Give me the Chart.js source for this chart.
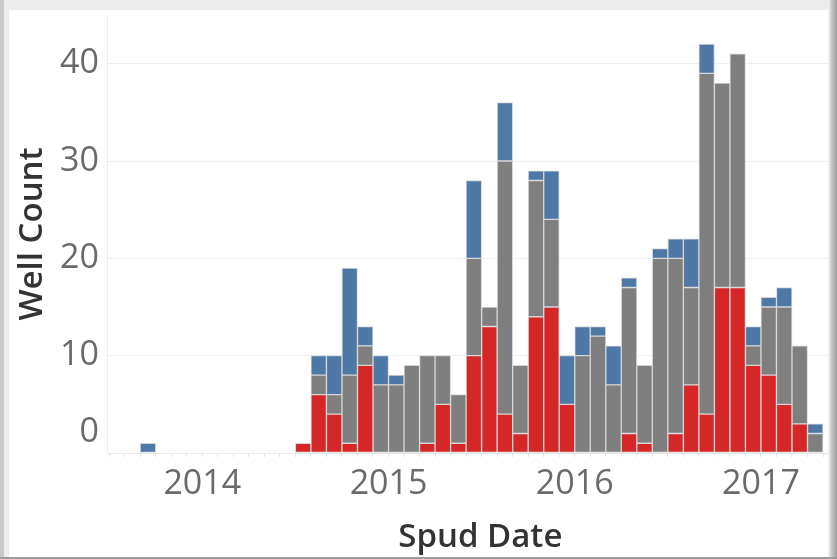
<!DOCTYPE html>
<html>
<head>
<meta charset="utf-8">
<script src="https://cdn.jsdelivr.net/npm/chart.js@4"></script>
<style>
  html, body { margin: 0; padding: 0; }
  body { width: 837px; height: 559px; background: #ececec; position: relative; overflow: hidden; }
  .edgeLeft { position: absolute; left: 0; top: 0; width: 4px; height: 559px; background: #c9c9c9; }
  .edgeRight { position: absolute; right: 0; top: 0; width: 7px; height: 559px; background: linear-gradient(to right, #d6d6d6, #9c9c9c); }
  .edgeBottom { position: absolute; left: 0; bottom: 0; width: 837px; height: 2px; background: #9c9c9c; }
  .panel { position: absolute; left: 9px; top: 10px; width: 819px; height: 547px; background: #fff; }
</style>
</head>
<body>
<div class="edgeLeft"></div>
<div class="edgeRight"></div>
<div class="edgeBottom"></div>
<div class="panel"><canvas id="wellChart"></canvas></div>
<script>
// meses (YYYY-MM) y pozos por categoria
var months = [
  "2013-09", "2013-10", "2013-11", "2013-12",
  "2014-01", "2014-02", "2014-03", "2014-04", "2014-05", "2014-06",
  "2014-07", "2014-08", "2014-09", "2014-10", "2014-11", "2014-12",
  "2015-01", "2015-02", "2015-03", "2015-04", "2015-05", "2015-06",
  "2015-07", "2015-08", "2015-09", "2015-10", "2015-11", "2015-12",
  "2016-01", "2016-02", "2016-03", "2016-04", "2016-05", "2016-06",
  "2016-07", "2016-08", "2016-09", "2016-10", "2016-11", "2016-12",
  "2017-01", "2017-02", "2017-03", "2017-04"
];
var redWells = [
  0, 0, 0, 0,
  0, 0, 0, 0, 0, 0,
  1, 6, 4, 1, 9, 0,
  0, 0, 1, 5, 1, 10,
  13, 4, 2, 14, 15, 5,
  0, 0, 0, 2, 1, 0,
  2, 7, 4, 17, 17, 9,
  8, 5, 3, 0
];
var grayWells = [
  0, 0, 0, 0,
  0, 0, 0, 0, 0, 0,
  0, 2, 2, 7, 2, 7,
  7, 9, 9, 5, 5, 10,
  2, 26, 7, 14, 9, 0,
  10, 12, 7, 15, 8, 20,
  18, 10, 35, 21, 24, 2,
  7, 10, 8, 2
];
var blueWells = [
  1, 0, 0, 0,
  0, 0, 0, 0, 0, 0,
  0, 2, 4, 11, 2, 3,
  1, 0, 0, 0, 0, 8,
  0, 6, 0, 1, 5, 5,
  3, 1, 4, 1, 0, 1,
  2, 5, 3, 0, 0, 2,
  1, 2, 0, 1
];
var yearLabels = ["2014", "2015", "2016", "2017"];
var yLabelValues = [0, 10, 20, 30, 40];

// eje x en meses contados desde enero 2013
function monthPos(m) {
  var parts = m.split("-");
  return (Number(parts[0]) - 2013) * 12 + Number(parts[1]) - 1 + 0.5;
}

function toPoints(values) {
  return values.map(function (v, i) {
    return { x: monthPos(months[i]), y: v };
  });
}

var xMin = 5.86, xMax = 52.32;
var xTicks = [];
for (var t = 6; t <= 52; t++) xTicks.push(t);
var yTicks = [0, 5, 10, 15, 20, 25, 30, 35, 40, 45];

var tickFont = { family: "Open Sans", size: 34 };
var titleFont = { family: "Open Sans", size: 33, weight: "600" };

var ctx = document.getElementById("wellChart").getContext("2d");
new Chart(ctx, {
  type: "bar",
  data: {
    datasets: [
      { data: toPoints(redWells), backgroundColor: "#d62728" },
      { data: toPoints(grayWells), backgroundColor: "#7f7f7f" },
      { data: toPoints(blueWells), backgroundColor: "#4e79a7" }
    ]
  },
  options: {
    responsive: true,
    maintainAspectRatio: false,
    animation: false,
    layout: { padding: { top: 5, right: 0, left: 0, bottom: 0 } },
    datasets: {
      bar: {
        barPercentage: 1,
        categoryPercentage: 1,
        borderWidth: 1,
        borderColor: "#d6d6d6",
        borderSkipped: false
      }
    },
    plugins: { legend: { display: false }, tooltip: { enabled: false } },
    scales: {
      x: {
        type: "linear",
        stacked: true,
        offset: false,
        min: xMin,
        max: xMax,
        afterBuildTicks: function (s) {
          s.ticks = xTicks.map(function (v) { return { value: v }; });
        },
        afterFit: function (s) {
          s.height = 104;
          s.paddingLeft = 0;
          s.paddingRight = 0;
        },
        grid: { offset: false, drawOnChartArea: false, tickLength: 4, color: "#e4e4e4" },
        border: { color: "#e8e8e8" },
        ticks: {
          autoSkip: false,
          maxRotation: 0,
          padding: 7,
          color: "#6a6a6a",
          font: tickFont,
          callback: function (v) {
            if (v % 12 === 0) {
              var i = v / 12 - 1;
              return yearLabels[i] || "";
            }
            return "";
          }
        },
        title: {
          display: true,
          text: "   Spud Date",
          color: "#333333",
          font: titleFont,
          padding: { top: 0, bottom: 0 }
        }
      },
      y: {
        stacked: true,
        min: 0,
        max: 45,
        afterBuildTicks: function (s) {
          s.ticks = yTicks.map(function (v) { return { value: v }; });
        },
        afterFit: function (s) {
          s.width = 98;
          s.paddingTop = 0;
          s.paddingBottom = 0;
        },
        grid: { drawTicks: false, color: "#efefef" },
        border: { color: "#eeeeee" },
        ticks: {
          padding: 8,
          color: "#6a6a6a",
          font: tickFont,
          callback: function (v) {
            if (yLabelValues.indexOf(v) === -1) return "";
            // el cero queda recortado en el original, se sube media linea
            if (v === 0) return ["0", ""];
            return String(v);
          }
        },
        title: {
          display: true,
          text: "Well Count",
          color: "#333333",
          font: titleFont,
          padding: { top: 4, bottom: 0 }
        }
      }
    }
  }
});
</script>
</body>
</html>
